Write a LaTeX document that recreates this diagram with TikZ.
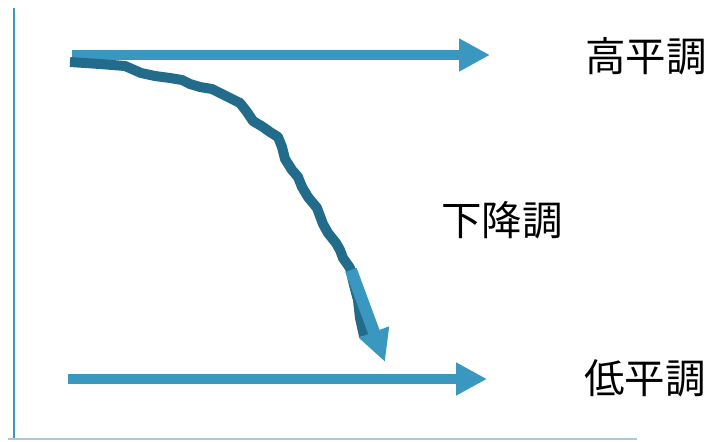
\documentclass[tikz,border=0pt]{standalone}
\usepackage{fontspec}
\newfontfamily\cjk{Noto Sans CJK JP}
\usetikzlibrary{arrows.meta}
\definecolor{lightb}{HTML}{3A97BF}
\definecolor{darkb}{HTML}{236B8A}
\definecolor{axisg}{HTML}{A9C9D8}
\tikzset{
  flatarrow/.style={draw=lightb, line width=10pt, -{Triangle[length=31pt,width=31pt]}},
  fallarrow/.style={draw=lightb, line width=12pt, -{Triangle[length=32pt,width=30pt]}},
  wavy/.style={draw=darkb, line width=10pt, line join=round, line cap=butt},
  lbl/.style={font=\cjk\fontsize{40.5pt}{44pt}\selectfont, text=black, inner sep=0pt}
}
\begin{document}
\begin{tikzpicture}[x=1pt,y=-1pt]
\useasboundingbox (0,0) rectangle (713,442);
% axes
\coordinate (ytop) at (13.5,8);
\coordinate (ybot) at (13.5,440);
\coordinate (xl) at (8,439);
\coordinate (xr) at (637,439);
\draw[lightb, line width=2pt] (ytop) -- (ybot);
\draw[axisg, line width=1.5pt] (xl) -- (xr);
% flat arrows
\coordinate (hs) at (72,55);
\coordinate (he) at (490,55);
\coordinate (ls) at (68,379);
\coordinate (le) at (487,379);
\draw[flatarrow] (hs) -- (he);
\draw[flatarrow] (ls) -- (le);
% wavy falling line
\coordinate (ws) at (70,62);
\coordinate (we) at (364,336);
\draw[wavy] (ws) -- (100,64) -- (125,66) -- (132,69) -- (141,73) -- (155,76) -- (170,78) -- (182,80) -- (190,84) -- (200,87) -- (212,89) -- (222,94) -- (232,99) -- (240,103) -- (247,112) -- (253,121) -- (263,127) -- (270,132) -- (278,137) -- (282,147) -- (285,159) -- (292,170) -- (298,177) -- (302,187) -- (308,197) -- (317,208) -- (320,216) -- (323,224) -- (328,233) -- (336,243) -- (340,250) -- (343,258) -- (350,268) -- (354,285) -- (358,300) -- (360,318) -- (we);
% falling arrow
\coordinate (fs) at (351,270);
\coordinate (fe) at (385,362);
\draw[fallarrow] (fs) -- (fe);
% labels
\node[lbl] (high) at (646,56) {高平調};
\node[lbl] (fall) at (502,220) {下降調};
\node[lbl] (low) at (645,378) {低平調};
\end{tikzpicture}
\end{document}
